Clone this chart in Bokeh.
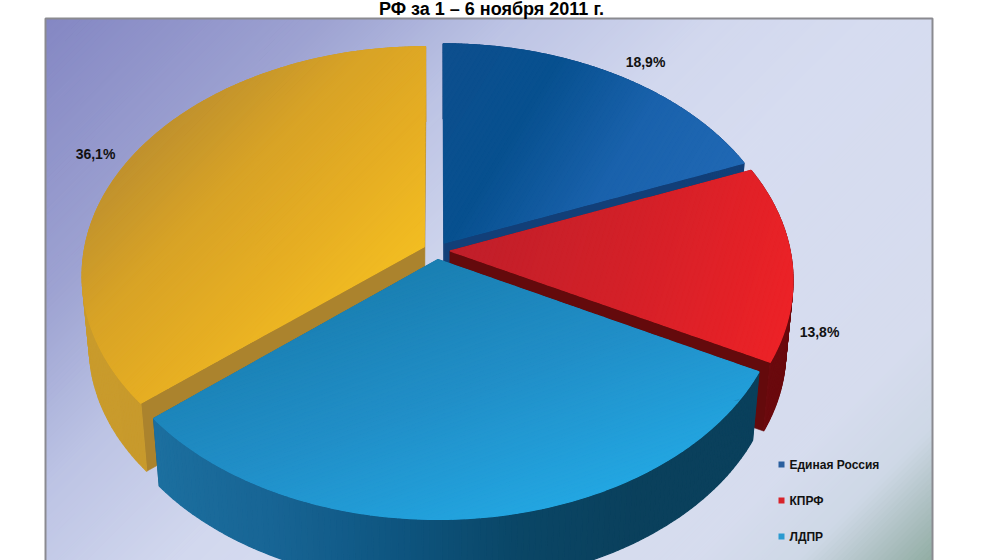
import numpy as np
from bokeh.plotting import figure
from bokeh.models import Range1d
from bokeh.core.properties import value
from bokeh.embed import file_html
from bokeh.resources import INLINE

# ---- data ----
TITLE = "РФ за 1 – 6 ноября 2011 г."
parties = ["Единая Россия", "КПРФ", "ЛДПР", "Другие"]
shares = [18.9, 13.8, 31.2, 36.1]
legend_parties = ["Единая Россия", "КПРФ", "ЛДПР"]
legend_colors = ["#2a5f9e", "#d8232a", "#2a9ad0"]
label_colors = "#111111"

# ---- styles: gradient stops ----
top_grad = {
    "Единая Россия": ((1, 0.6), ["#0e4f8e", "#07508f", "#1a62ac", "#2068b4"]),
    "КПРФ": ((1, 0.3), ["#bf1f2a", "#d32028", "#ec2227"]),
    "ЛДПР": ((0.35, 1), ["#1a7fb2", "#218fc8", "#23a6e1"]),
    "Другие": ((1, 1), ["#bf912e", "#d8a326", "#e6ae23", "#f2bd22"]),
}
side_grad = {
    "Единая Россия": ["#123f78", "#123f78"],
    "КПРФ": ["#6b0a0e", "#6b0a0e"],
    "ЛДПР": ["#1c6f9f", "#176494", "#0e5580", "#0a4666", "#0a405c", "#0a405c"],
    "Другие": ["#c99b2c", "#c4962b"],
}
wall_color = {
    "Единая Россия": "#123f78",
    "КПРФ": "#640a0c",
    "ЛДПР": "#0a405c",
    "Другие": "#ab832d",
}
bg_stops = [(63, "#8487c3"), (350, "#9ea3d2"), (530, "#bcc3e4"), (740, "#d2d8ee"),
            (900, "#d6dcf0"), (1250, "#d6dcee"), (1360, "#ced8e6"), (1490, "#92ada4")]

# ---- projection ----
CX, CY, A, B, K = 436, 250, 340, 225.5, 0.1232
EXPLODE = 0.04
SX, DEPTH = 0.98, 71


def project(X, Y):
    w = 1 + K * Y
    return CX + A * X / w, CY - B * Y / w


def lower(x, y):
    return CX + (x - CX) * SX, CY + (y - CY) * SX + DEPTH


def hex2rgb(h):
    return np.array([int(h[i:i + 2], 16) for i in (1, 3, 5)], float)


def ramp(t, pos, cols):
    rgb = [np.interp(t, pos, [hex2rgb(c)[i] for c in cols]) for i in range(3)]
    return "#%02x%02x%02x" % tuple(int(round(v)) for v in rgb)


def clip(poly, d, lim, keep_above):
    out = []
    n = len(poly)
    for i in range(n):
        a, b = poly[i], poly[(i + 1) % n]
        ta, tb = a[0] * d[0] + a[1] * d[1], b[0] * d[0] + b[1] * d[1]
        ina = ta >= lim if keep_above else ta <= lim
        inb = tb >= lim if keep_above else tb <= lim
        if ina:
            out.append(a)
        if ina != inb:
            f = (lim - ta) / (tb - ta)
            out.append((a[0] + f * (b[0] - a[0]), a[1] + f * (b[1] - a[1])))
    return out


def band_fill(poly, d, pos, cols, n):
    ts = [p[0] * d[0] + p[1] * d[1] for p in poly]
    t0, t1 = min(ts), max(ts)
    edges = np.linspace(t0, t1, n + 1)
    xs, ys, cs = [], [], []
    for i in range(n):
        q = clip(clip(poly, d, edges[i], True), d, edges[i + 1], False)
        if len(q) >= 3:
            xs.append([a[0] for a in q])
            ys.append([a[1] for a in q])
            cs.append(ramp((i + 0.5) / n * (t1 - t0) + t0, [t0 + (t1 - t0) * v for v in pos], cols))
    return xs, ys, cs


p = figure(width=1000, height=560, output_backend="svg", toolbar_location=None,
           x_range=Range1d(0, 1000), y_range=Range1d(560, 0),
           min_border=0, outline_line_color=None,
           background_fill_color="white", border_fill_color="white")
p.xaxis.visible = False
p.yaxis.visible = False
p.grid.visible = False


def draw(xs, ys, cs, lw=1.2):
    p.patches(xs=xs, ys=ys, fill_color=cs, line_color=cs, line_width=lw)


# background panel
rect = [(46, 19), (931, 19), (931, 560), (46, 560)]
t0, t1 = 65, 1491
bx, by, bc = band_fill(rect, (1, 1), [(s[0] - t0) / (t1 - t0) for s in bg_stops], [s[1] for s in bg_stops], 240)
draw(bx, by, bc)
p.line(x=[45, 45, 932, 932], y=[560, 18, 18, 560], line_color="#8a8a90", line_width=2)

# slices
bounds = np.concatenate([[0], np.cumsum(shares)]) / 100 * 2 * np.pi
geom = {}
for i, name in enumerate(parties):
    a0, a1 = bounds[i], bounds[i + 1]
    mid = (a0 + a1) / 2
    ox, oy = EXPLODE * np.sin(mid), EXPLODE * np.cos(mid)
    th = np.linspace(a0, a1, 121)
    ax, ay = project(ox + np.sin(th), oy + np.cos(th))
    ox_, oy_ = project(ox, oy)
    geom[name] = (ax, ay, ox_, oy_)

for name in ["Единая Россия", "КПРФ", "Другие", "ЛДПР"]:
    ax, ay, ox, oy = geom[name]
    bx_, by_ = lower(ax, ay)
    obx, oby = lower(ox, oy)
    # flat walls
    for j in (0, -1):
        p.patch(x=[ox, ax[j], bx_[j], obx], y=[oy, ay[j], by_[j], oby],
                fill_color=wall_color[name], line_color=wall_color[name], line_width=0.6)
    # outer side
    cols = side_grad[name]
    pos = np.linspace(ax.min(), ax.max(), len(cols))
    sx, sy, sc = [], [], []
    for j in range(len(ax) - 1):
        sx.append([ax[j], ax[j + 1], bx_[j + 1], bx_[j]])
        sy.append([ay[j], ay[j + 1], by_[j + 1], by_[j]])
        sc.append(ramp((ax[j] + ax[j + 1]) / 2, pos, cols))
    draw(sx, sy, sc)
    # top face: a solid underlay, then the gradient bands
    poly = [(ox, oy)] + list(zip(ax, ay))
    d, gcols = top_grad[name]
    p.patch(x=[q[0] for q in poly], y=[q[1] for q in poly], fill_color=gcols[len(gcols) // 2],
            line_color=None)
    nrm = np.hypot(*d)
    tx, ty, tc = band_fill(poly, (d[0] / nrm, d[1] / nrm), np.linspace(0, 1, len(gcols)), gcols, 70)
    draw(tx, ty, tc)

# texts
p.text(x=[491], y=[8.5], text=[TITLE], text_font=value("Liberation Sans"), text_font_style="bold",
       text_font_size="18px", text_color="#000000", text_align="center", text_baseline="middle")

label_names = ["Единая Россия", "КПРФ", "Другие"]
label_x = [645, 819, 95]
label_y = [61, 331, 153]
label_txt = [f"{shares[parties.index(n)]:.1f}%".replace(".", ",") for n in label_names]
p.text(x=label_x, y=label_y, text=label_txt, text_font=value("Liberation Sans"), text_font_style="bold",
       text_font_size="14px", text_color=label_colors, text_align="center", text_baseline="middle")

leg_y = [464, 500, 536]
p.scatter(x=[781] * 3, y=leg_y, marker="square", size=6, fill_color=legend_colors, line_color=None)
p.text(x=[789] * 3, y=leg_y, text=legend_parties, text_font=value("Liberation Sans"), text_font_style="bold",
       text_font_size="12px", text_color="#111111", text_align="left", text_baseline="middle")

open("out.html", "w").write(file_html(p, INLINE))
